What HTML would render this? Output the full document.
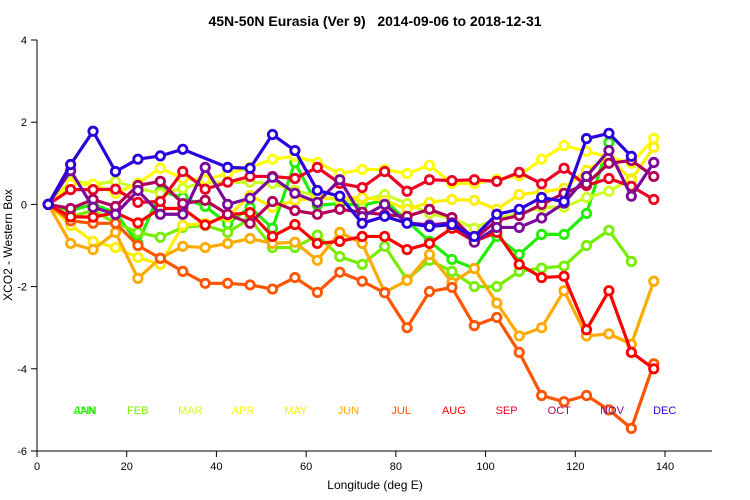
<!DOCTYPE html>
<html><head><meta charset="utf-8"><style>
body{margin:0;background:#fff}
svg{display:block;font-family:"Liberation Sans",sans-serif}
</style></head><body>
<svg id="chart" width="750" height="500" xmlns="http://www.w3.org/2000/svg">
<text x="375" y="26" text-anchor="middle" font-size="14" font-weight="bold" style="white-space:pre" xml:space="preserve">45N-50N Eurasia (Ver 9)   2014-09-06 to 2018-12-31</text>
<text x="375" y="489" text-anchor="middle" font-size="12">Longitude (deg E)</text>
<text transform="translate(12,245) rotate(-90)" text-anchor="middle" font-size="12">XCO2 - Western Box</text>
<g id="axes"></g>
<g id="series"></g>
<g id="legend"></g>
</svg>
<script>
const xTicks=[0,20,40,60,80,100,120,140];
const yTicks=[4,2,0,-2,-4,-6];
const lons=[2.5,7.5,12.5,17.5,22.5,27.5,32.5,37.5,42.5,47.5,52.5,57.5,62.5,67.5,72.5,77.5,82.5,87.5,92.5,97.5,102.5,107.5,112.5,117.5,122.5,127.5,132.5,137.5];
const months=["JAN","FEB","MAR","APR","MAY","JUN","JUL","AUG","SEP","OCT","NOV","DEC"];
const colors=["#22ee00","#77ee00","#ccff22","#ffff00","#ffee00","#ffaa00","#ff5500","#ff0000","#ee0022","#b0005a","#7a0a9a","#2a00dd"];
const JAN=[0,-0.15,0.0,-0.2,-0.95,0.32,0.17,-0.05,-0.47,-0.07,-0.58,1.02,-0.02,0.02,-0.02,0.1,-0.4,-0.9,-1.34,-1.56,-0.78,-1.22,-0.73,-0.73,-0.22,1.51,null,null];
const FEB=[0,-0.3,-0.15,-0.45,-0.68,-0.8,-0.56,-0.51,-0.68,-0.35,-1.05,-1.05,-0.75,-1.27,-1.46,-1.02,-1.83,-1.36,-1.63,-2.0,-2.0,-1.63,-1.55,-1.5,-1.0,-0.63,-1.39,null];
const MAR=[0,0.58,0.49,0.56,0.39,0.27,0.39,0.54,0.54,0.54,0.51,0.34,0.2,0.1,0.1,0.24,0.02,-0.22,-0.34,-0.58,-0.34,-0.22,-0.07,-0.07,0.17,0.32,0.63,null];
const APR=[0,0.5,0.49,0.27,0.51,0.88,0.63,0.6,0.75,0.9,1.1,1.17,1.02,0.75,0.85,0.85,0.75,0.95,0.51,0.51,0.61,0.7,1.1,1.43,1.29,1.15,1.0,1.6];
const MAY=[0,-0.51,-0.9,-1.05,-1.29,-1.46,-0.51,-0.46,-0.3,0.22,-0.07,0.1,0.15,0.15,0.17,0.1,-0.12,0.05,0.12,0.1,-0.12,0.24,0.3,0.39,0.83,1.14,0.6,1.39];
const JUN=[0,-0.95,-1.1,-0.68,-1.8,-1.31,-1.02,-1.05,-0.95,-0.83,-0.95,-0.92,-1.36,-0.68,-0.95,-2.14,-1.85,-1.22,-1.9,-1.56,-2.4,-3.2,-3.0,-2.1,-3.2,-3.15,-3.4,-1.87];
const JUL=[0,-0.4,-0.46,-0.46,-1.0,-1.31,-1.63,-1.92,-1.92,-1.96,-2.06,-1.78,-2.14,-1.65,-1.87,-2.15,-3.0,-2.12,-2.02,-2.95,-2.75,-3.6,-4.65,-4.8,-4.65,-5.0,-5.45,-3.88];
const AUG=[0,-0.3,-0.31,-0.2,-0.45,-0.1,-0.1,-0.5,-0.25,-0.2,-0.78,-0.49,-0.95,-0.9,-0.78,-0.78,-1.1,-0.95,-0.58,-0.9,-0.68,-1.46,-1.78,-1.75,-3.05,-2.1,-3.6,-4.0];
const SEP=[0,0.36,0.36,0.37,0.05,0.07,0.8,0.37,0.54,0.68,0.68,0.63,0.9,0.51,0.41,0.8,0.32,0.6,0.58,0.6,0.56,0.78,0.5,0.88,0.46,0.63,0.44,0.12];
const OCT=[0,-0.1,0.12,-0.05,0.46,0.56,0.02,0.1,-0.24,-0.46,0.07,-0.15,-0.24,-0.12,-0.19,-0.25,-0.29,-0.12,-0.32,-0.85,-0.39,-0.27,0,0.27,0.5,1.0,1.07,0.68];
const NOV=[0,0.82,-0.07,-0.24,0.34,-0.24,-0.24,0.9,0,0.15,0.66,0.27,0.05,0.6,-0.3,0,-0.45,-0.5,-0.45,-0.92,-0.56,-0.56,-0.33,0.03,0.68,1.31,0.2,1.02];
const DEC=[0,0.97,1.78,0.8,1.1,1.18,1.34,null,0.9,0.88,1.7,1.31,0.34,0.2,-0.46,-0.29,-0.46,-0.54,-0.49,-0.78,-0.24,-0.12,0.17,0.07,1.6,1.73,1.17,null];
const allSeries=[JAN,FEB,MAR,APR,MAY,JUN,JUL,AUG,SEP,OCT,NOV,DEC];
const legendLabels=["ANN","FEB","MAR","APR","MAY","JUN","JUL","AUG","SEP","OCT","NOV","DEC"];

const NS="http://www.w3.org/2000/svg";
const X0=37,X1=712,Y0=451,Y1=40;
const xs=v=>X0+(v-0)*(665-37)/140;
const ys=v=>Y0-(v+6)*(Y0-Y1)/10;
function mk(tag,attrs,parent){const e=document.createElementNS(NS,tag);for(const k in attrs)e.setAttribute(k,attrs[k]);parent.appendChild(e);return e;}
const axes=document.getElementById('axes');
const yl=mk('line',{x1:X0,y1:Y1,x2:X0,y2:Y0,stroke:'#000'},axes);


const xl=mk('line',{x1:X0,y1:Y0,x2:X1,y2:Y0,stroke:'#000'},axes);


yTicks.forEach(t=>{
  const l=mk('line',{x1:X0-6,x2:X0,y1:ys(t),y2:ys(t),stroke:'#000'},axes);
  
  
  const tx=mk('text',{x:X0-10,y:ys(t)+4,'text-anchor':'end','font-size':11},axes);
  tx.textContent=t;
  
  
});
xTicks.forEach(t=>{
  const l=mk('line',{x1:xs(t),x2:xs(t),y1:Y0,y2:Y0+6,stroke:'#000'},axes);
  
  
  const tx=mk('text',{x:xs(t),y:Y0+19,'text-anchor':'middle','font-size':11},axes);
  tx.textContent=t;
  
  
});
const sg=document.getElementById('series');
allSeries.forEach((s,i)=>{
  const g=mk('g',{},sg);
  
  
  const pts=[];
  s.forEach((v,j)=>{if(v!==null)pts.push([xs(lons[j]),ys(v)]);});
  const pl=mk('polyline',{points:pts.map(p=>p.join(',')).join(' '),fill:'none',stroke:colors[i],'stroke-width':3.2,'stroke-linejoin':'round'},g);
  
  
  pts.forEach(p=>{
    const c=mk('circle',{cx:p[0],cy:p[1],r:4.2,fill:'#fff',stroke:colors[i],'stroke-width':2.8},g);
    
    
  });
});
const lg=document.getElementById('legend');
legendLabels.forEach((lab,i)=>{
  const t=mk('text',{x:85+i*52.7,y:414,'text-anchor':'middle','font-size':11,fill:colors[i]},lg);
  t.textContent=lab;
  
  
});
const jt=mk('text',{x:85,y:414,'text-anchor':'middle','font-size':11,fill:colors[0]},lg);
jt.textContent='JAN';


</script>
</body></html>
